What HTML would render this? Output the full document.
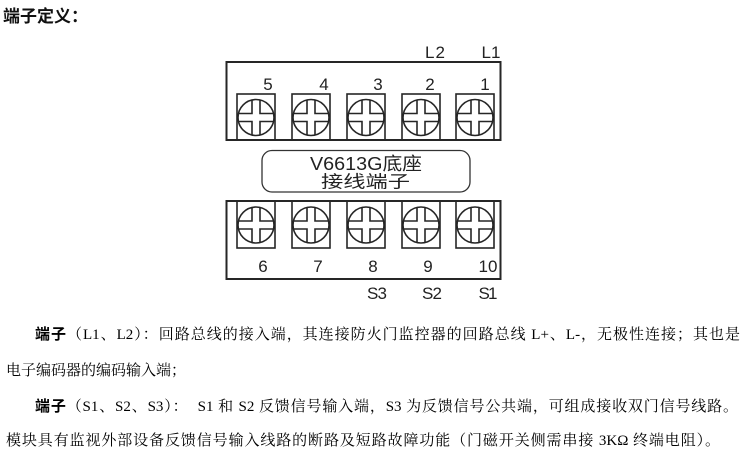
<!DOCTYPE html>
<html>
<head>
<meta charset="utf-8">
<style>
  html, body { margin:0; padding:0; background:#fff; }
  body { width:752px; height:466px; position:relative; overflow:hidden; }
  .t { position:absolute; font-family:"Liberation Serif","Noto Serif CJK SC",serif; font-size:15px; line-height:20px; color:#000; }
  .j { text-align:justify; text-align-last:justify; }
  .b { font-family:"Liberation Sans","Noto Sans CJK SC",sans-serif; font-weight:bold; }
  .title { position:absolute; left:3px; top:5px; font-family:"Liberation Sans","Noto Sans CJK SC",sans-serif; font-weight:bold; font-size:17px; line-height:24px; color:#111; }
  svg { position:absolute; left:0; top:0; }
</style>
</head>
<body>
<div class="title">端子定义：</div>

<svg width="752" height="466" viewBox="0 0 752 466" xmlns="http://www.w3.org/2000/svg">
  <defs>
    <g id="s" fill="none" stroke="#262626" stroke-width="1.6">
      <circle r="18"/>
      <path d="M-4,-17.5V-4H-17.5 M4,-17.5V-4H17.5 M-4,17.5V4H-17.5 M4,17.5V4H17.5"/>
    </g>
  </defs>
  <g fill="none" stroke="#262626">
    <rect x="226.5" y="62" width="274" height="78" stroke-width="2"/>
    <rect x="226.5" y="201" width="274" height="78" stroke-width="2"/>
    <g stroke-width="1.6">
      <rect x="237" y="94" width="38" height="46"/>
      <rect x="292" y="94" width="38" height="46"/>
      <rect x="347" y="94" width="38" height="46"/>
      <rect x="402" y="94" width="38" height="46"/>
      <rect x="456" y="94" width="38" height="46"/>
      <rect x="237" y="201" width="38" height="47"/>
      <rect x="292" y="201" width="38" height="47"/>
      <rect x="347" y="201" width="38" height="47"/>
      <rect x="402" y="201" width="38" height="47"/>
      <rect x="456" y="201" width="38" height="47"/>
    </g>
    <rect x="262" y="150.5" width="208" height="41.5" rx="10" ry="10" stroke-width="1.3" stroke="#333"/>
  </g>
  <use href="#s" x="256" y="117.5"/>
  <use href="#s" x="311" y="117.5"/>
  <use href="#s" x="366" y="117.5"/>
  <use href="#s" x="421" y="117.5"/>
  <use href="#s" x="475" y="117.5"/>
  <use href="#s" x="256" y="225"/>
  <use href="#s" x="311" y="225"/>
  <use href="#s" x="366" y="225"/>
  <use href="#s" x="421" y="225"/>
  <use href="#s" x="475" y="225"/>

  <g font-family="Liberation Sans, sans-serif" font-size="17" fill="#222" text-anchor="middle">
    <text x="268" y="90">5</text>
    <text x="324" y="90">4</text>
    <text x="378" y="90">3</text>
    <text x="430" y="90">2</text>
    <text x="485" y="90">1</text>
    <text x="435" y="58" textLength="20" lengthAdjust="spacing">L2</text>
    <text x="491" y="58" textLength="19" lengthAdjust="spacing">L1</text>
    <text x="263" y="272">6</text>
    <text x="318" y="272">7</text>
    <text x="373" y="272">8</text>
    <text x="428" y="272">9</text>
    <text x="488" y="272">10</text>
    <text x="377" y="299" textLength="20" lengthAdjust="spacing">S3</text>
    <text x="432" y="299" textLength="20" lengthAdjust="spacing">S2</text>
    <text x="488" y="299" textLength="19" lengthAdjust="spacing">S1</text>
  </g>
  <g font-family="Liberation Sans, Noto Sans CJK SC, sans-serif" fill="#222">
    <text x="310" y="170" font-size="18" textLength="112" lengthAdjust="spacingAndGlyphs">V6613G底座</text>
    <text x="321" y="187.5" font-size="17" textLength="89" lengthAdjust="spacingAndGlyphs">接线端子</text>
  </g>
</svg>

<div class="t j" style="left:35px; top:325px; width:705px;"><span class="b">端子</span>（L1、L2）：回路总线的接入端，其连接防火门监控器的回路总线 L+、L-，无极性连接；其也是</div>
<div class="t" style="left:6px; top:361px; white-space:nowrap;">电子编码器的编码输入端；</div>
<div class="t j" style="left:35px; top:397px; width:703px;"><span class="b">端子</span>（S1、S2、S3）：&nbsp; S1 和 S2 反馈信号输入端，S3 为反馈信号公共端，可组成接收双门信号线路。</div>
<div class="t j" style="left:6px; top:431px; width:714px;">模块具有监视外部设备反馈信号输入线路的断路及短路故障功能（门磁开关侧需串接 3KΩ 终端电阻）。</div>
</body>
</html>
